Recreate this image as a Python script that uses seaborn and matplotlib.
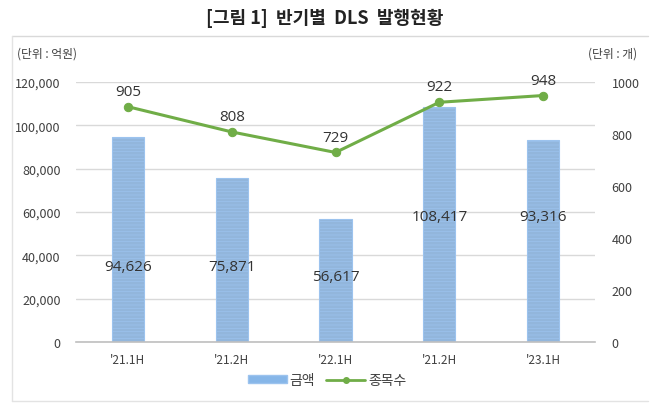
import matplotlib.pyplot as plt
import matplotlib.patches as mpatches
import seaborn as sns
import pandas as pd
import numpy as np

periods = ["'21.1H", "'21.2H", "'22.1H", "'21.2H", "'23.1H"]
amount = [94626, 75871, 56617, 108417, 93316]      # 금액 (억원)
count = [905, 808, 729, 922, 948]                  # 종목수 (개)

# where the bar value labels sit (data units on the left axis)
amount_label_y = [35000, 35000, 30000, 57700, 57700]

sns.set_theme(style="white")
plt.rcParams['font.family'] = ['Noto Sans CJK KR', 'DejaVu Sans']
plt.rcParams['hatch.color'] = '#B5D2F1'

df = pd.DataFrame({"period": range(len(periods)), "amount": amount, "count": count})

fig = plt.figure(figsize=(6.58, 4.10), dpi=100)
ax = fig.add_axes([76 / 658, 1 - 343 / 410, (595 - 76) / 658, (343 - 83) / 410])

# outer frame + title separator
fig.add_artist(plt.Line2D([12 / 658, 648 / 658], [1 - 37 / 410, 1 - 37 / 410], color='#D9D9D9', lw=1))
fig.add_artist(plt.Line2D([12 / 658, 648 / 658], [1 - 402 / 410, 1 - 402 / 410], color='#E3E3E3', lw=1))
fig.add_artist(plt.Line2D([12 / 658, 12 / 658], [1 - 37 / 410, 1 - 402 / 410], color='#E3E3E3', lw=1))

sns.barplot(data=df, x="period", y="amount", ax=ax, color='#86B6E8', width=0.31,
            edgecolor='#9CC3EE', linewidth=0.8, zorder=2)
for p in ax.patches:
    p.set_hatch('-----')
    p.set_hatch_linewidth(0.5)

ax.set_ylim(0, 120000)
ax.set_xlim(-0.5, len(periods) - 0.5)
ax.set_yticks(np.arange(0, 120001, 20000))
ax.set_yticklabels([f"{v:,}" for v in range(0, 120001, 20000)], fontsize=9, color='#404040')
ax.set_xticks(range(len(periods)))
ax.set_xticklabels(periods, fontsize=8.5, color='#404040')
ax.tick_params(axis='y', pad=11, length=0)
ax.tick_params(axis='x', pad=8, length=0)
ax.grid(axis='y', color='#D9D9D9', lw=1, zorder=0)
ax.set_axisbelow(True)
ax.set_xlabel('')
ax.set_ylabel('')
for s in ['top', 'right', 'left']:
    ax.spines[s].set_visible(False)
ax.spines['bottom'].set_color('#BFBFBF')
ax.spines['bottom'].set_linewidth(1.2)

for i, (v, ly) in enumerate(zip(amount, amount_label_y)):
    ax.text(i, ly, f"{v:,}", ha='center', va='center', fontsize=11, color='#333333',
            family=['Open Sans', 'DejaVu Sans'])

ax2 = ax.twinx()
sns.lineplot(data=df, x="period", y="count", ax=ax2, color='#70AD47', lw=2.2,
             marker='o', markersize=6, markeredgecolor='#70AD47', zorder=3)
ax2.set_ylim(0, 1000)
ax2.set_yticks(range(0, 1001, 200))
ax2.set_yticklabels([str(v) for v in range(0, 1001, 200)], fontsize=9, color='#404040')
ax2.tick_params(axis='y', pad=12, length=0)
ax2.set_ylabel('')
for s in ax2.spines.values():
    s.set_visible(False)
for i, v in enumerate(count):
    ax2.text(i, v + 30, f"{v}", ha='center', va='bottom', fontsize=11, color='#333333',
             family=['Open Sans', 'DejaVu Sans'])

fig.text(325 / 658, 1 - 18 / 410, "[그림 1]  반기별  DLS  발행현황", ha='center', va='center',
         fontsize=13, fontweight='bold', color='#222222')
fig.text(17 / 658, 1 - 54 / 410, "(단위 : 억원)", ha='left', va='center', fontsize=8.5, color='#404040')
fig.text(637 / 658, 1 - 54 / 410, "(단위 : 개)", ha='right', va='center', fontsize=8.5, color='#404040')

handles = [mpatches.Patch(facecolor='#86B6E8', edgecolor='#9CC3EE', label='금액'),
           plt.Line2D([], [], color='#70AD47', lw=2, marker='o', markersize=4, label='종목수')]
fig.legend(handles=handles, loc='center', bbox_to_anchor=(327 / 658, 1 - 381 / 410), ncol=2,
           frameon=False, fontsize=10, handlelength=2.8, handleheight=0.5, columnspacing=0.8,
           handletextpad=0.2, labelcolor='#404040')

fig.savefig('out.png', dpi=100)
